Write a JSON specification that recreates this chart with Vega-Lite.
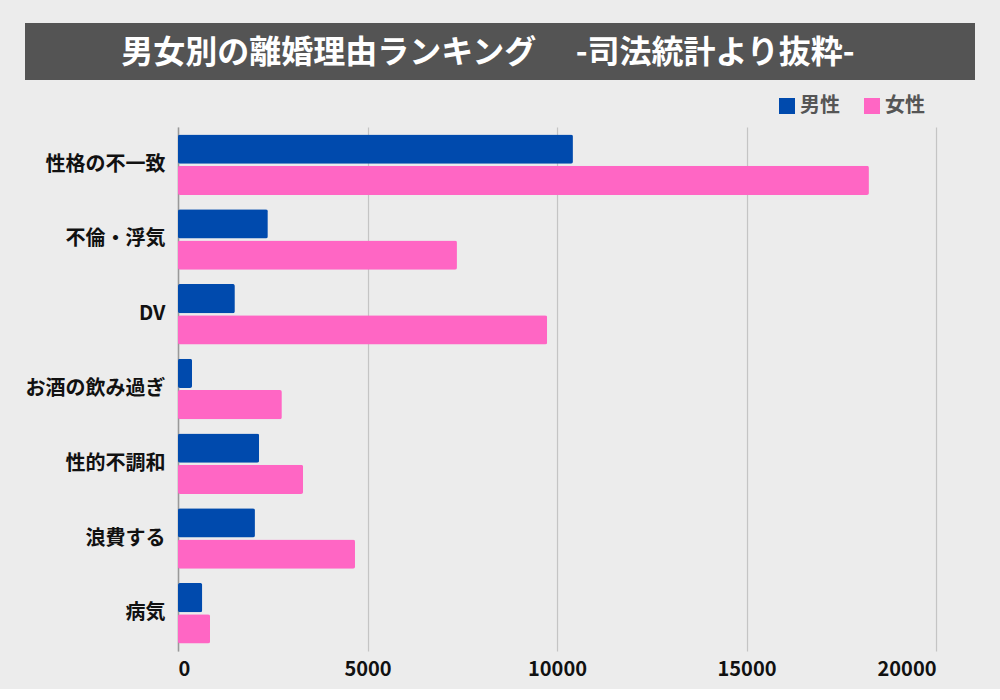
{
  "$schema": "https://vega.github.io/schema/vega-lite/v6.json",
  "background": "#ececec",
  "padding": {"left": 25, "top": 23, "right": 25, "bottom": 10},
  "spacing": 16,
  "columns": 1,
  "align": "none",
  "bounds": "full",
  "resolve": {"scale": {"color": "independent"}, "legend": {"color": "independent"}},
  "config": {
    "font": "Noto Sans CJK JP",
    "view": {"stroke": null}
  },
  "concat": [
    {
      "width": 950,
      "height": 57,
      "view": {"fill": "#545454", "stroke": null},
      "data": {"values": [{"t": "男女別の離婚理由ランキング　  -司法統計より抜粋-"}]},
      "mark": {"type": "text", "color": "#ffffff", "fontSize": 32, "fontWeight": "bold", "font": "Noto Sans CJK JP", "baseline": "middle", "align": "center", "dx": -12, "dy": 1},
      "encoding": {"text": {"field": "t", "type": "nominal"}}
    },
    {
      "width": 911,
      "height": 524,
      "data": {"values": [
        {"reason": "性格の不一致", "gender": "男性", "count": 10420},
        {"reason": "性格の不一致", "gender": "女性", "count": 18230},
        {"reason": "不倫・浮気", "gender": "男性", "count": 2370},
        {"reason": "不倫・浮気", "gender": "女性", "count": 7360},
        {"reason": "DV", "gender": "男性", "count": 1500},
        {"reason": "DV", "gender": "女性", "count": 9740},
        {"reason": "お酒の飲み過ぎ", "gender": "男性", "count": 370},
        {"reason": "お酒の飲み過ぎ", "gender": "女性", "count": 2740},
        {"reason": "性的不調和", "gender": "男性", "count": 2140},
        {"reason": "性的不調和", "gender": "女性", "count": 3300},
        {"reason": "浪費する", "gender": "男性", "count": 2030},
        {"reason": "浪費する", "gender": "女性", "count": 4670},
        {"reason": "病気", "gender": "男性", "count": 640},
        {"reason": "病気", "gender": "女性", "count": 845}
      ]},
      "mark": {"type": "bar", "cornerRadius": 2},
      "encoding": {
        "y": {
          "field": "reason", "type": "nominal", "sort": null,
          "scale": {"paddingInner": 0.19, "paddingOuter": 0.1},
          "axis": {
            "title": null, "ticks": false, "domain": true, "domainColor": "#999999", "domainWidth": 1.5,
            "grid": false, "labelFontSize": 20, "labelFontWeight": "bold", "labelColor": "#111111",
            "labelPadding": 13, "offset": -153, "labelFont": "Noto Sans CJK JP"
          }
        },
        "yOffset": {
          "field": "gender", "type": "nominal", "sort": ["男性", "女性"],
          "scale": {"paddingInner": 0.065, "paddingOuter": 0}
        },
        "x": {
          "field": "count", "type": "quantitative",
          "scale": {"domain": [0, 20000], "nice": false, "range": [153, 911]},
          "axis": {
            "title": null, "values": [0, 5000, 10000, 15000, 20000], "format": "d", "ticks": false, "domain": false,
            "grid": true, "gridColor": "#c4c4c4", "gridWidth": 1.2,
            "labelFontSize": 20, "labelFontWeight": "bold", "labelColor": "#111111", "labelPadding": 8,
            "labelFont": "Noto Sans CJK JP"
          }
        },
        "color": {
          "field": "gender", "type": "nominal",
          "scale": {"domain": ["男性", "女性"], "range": ["#004aad", "#ff66c4"]},
          "legend": {
            "title": null, "orient": "none", "direction": "horizontal",
            "legendX": 752, "legendY": -31,
            "symbolType": "square", "symbolSize": 256, "symbolStrokeWidth": 0, "symbolOpacity": 1,
            "labelFontSize": 20, "labelFontWeight": "bold", "labelColor": "#555555", "labelFont": "Noto Sans CJK JP",
            "labelOffset": 3, "columnPadding": 22
          }
        }
      }
    }
  ]
}
